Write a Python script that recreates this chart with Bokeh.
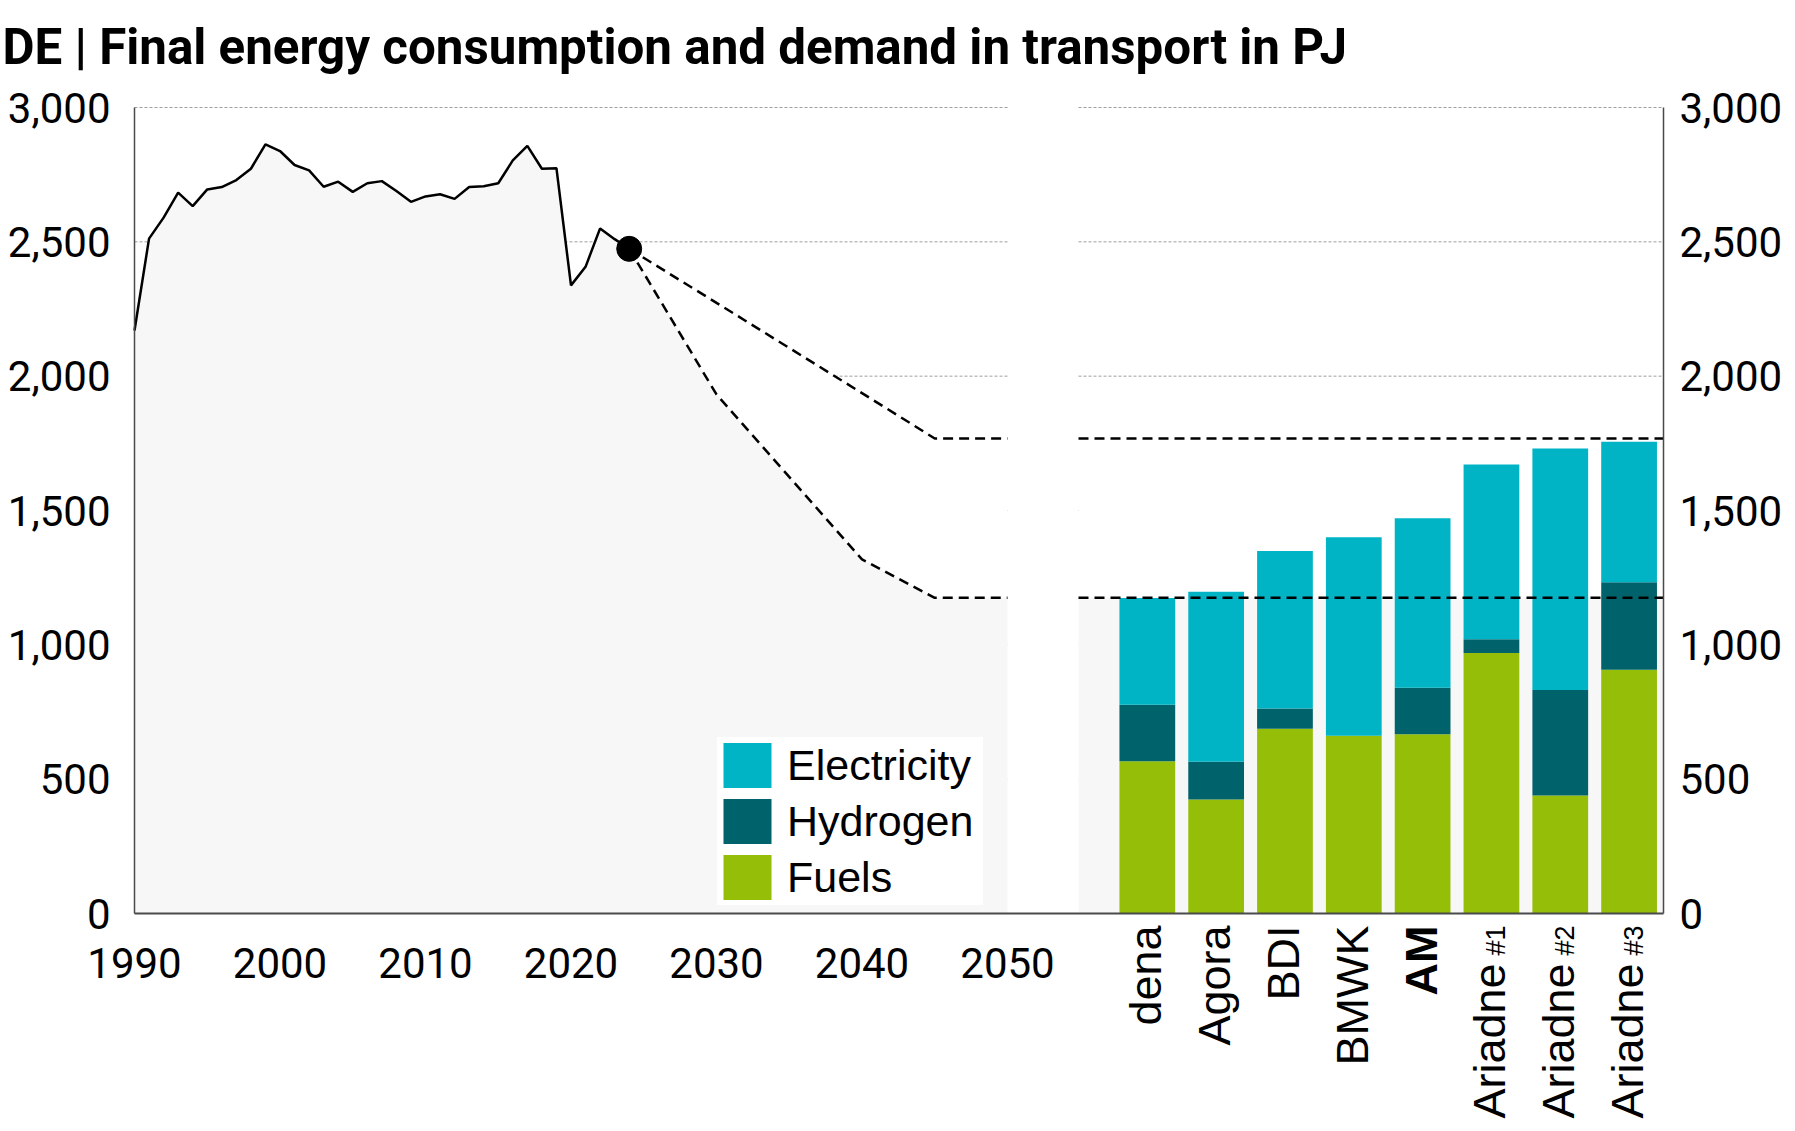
from math import pi
from bokeh.plotting import figure
from bokeh.models import (Range1d, LinearAxis, FixedTicker, NumeralTickFormatter,
                          Label, Legend, LegendItem, ColumnDataSource)
from bokeh.embed import file_html
from bokeh.resources import INLINE

# ---------------- data ----------------
title_text = "DE | Final energy consumption and demand in transport in PJ"

hist_years = list(range(1990, 2025))
hist_values = [2170, 2512, 2590, 2683, 2633, 2695, 2704, 2730, 2772, 2863,
               2838, 2786, 2766, 2705, 2724, 2686, 2718, 2726, 2689, 2649,
               2669, 2677, 2660, 2704, 2707, 2718, 2803, 2857, 2772, 2774,
               2338, 2407, 2550, 2510, 2474]

upper_years = [2024, 2030, 2040, 2045, 2050]
upper_values = [2474, 2273, 1937, 1768, 1768]
lower_years = [2024, 2030, 2040, 2045, 2050]
lower_values = [2474, 1932, 1318, 1175, 1175]

categories = ["dena", "Agora", "BDI", "BMWK", "AM",
              "Ariadne #1", "Ariadne #2", "Ariadne #3"]
bold_categories = ["AM"]
fuels = [567, 424, 688, 662, 667, 970, 439, 907]
hydrogen = [210, 141, 75, 0, 173, 51, 393, 326]
electricity = [397, 633, 586, 738, 631, 650, 899, 523]
series_names = ["Fuels", "Hydrogen", "Electricity"]

y_ticks = [0, 500, 1000, 1500, 2000, 2500, 3000]
x_ticks = [1990, 2000, 2010, 2020, 2030, 2040, 2050]

# ---------------- layout (pixels) ----------------
W, H = 1795, 1131
PX_LEFT, PX_GAP_L, PX_GAP_R, PX_RIGHT = 134, 1007, 1078, 1663
PX_TOP, PX_BOTTOM = 107, 913
SC0, SC1 = -1, 7.5

px_per_year = (PX_GAP_L - PX_LEFT) / (x_ticks[-1] - x_ticks[0])
x_start = x_ticks[0] - PX_LEFT / px_per_year
x_end = x_ticks[0] + (W - PX_LEFT) / px_per_year
x_axis_end = x_ticks[0] + (PX_RIGHT - PX_LEFT) / px_per_year

px_per_sc = (PX_RIGHT - PX_GAP_R) / (SC1 - SC0)
sc_start = SC0 - PX_GAP_R / px_per_sc
sc_end = SC1 + (W - PX_RIGHT) / px_per_sc

px_per_val = (PX_BOTTOM - PX_TOP) / (y_ticks[-1] - y_ticks[0])
y_start = -(H - PX_BOTTOM) / px_per_val
y_end = y_ticks[-1] + PX_TOP / px_per_val

# ---------------- style ----------------
C_ELEC = "#00B4C5"
C_H2 = "#00636B"
C_FUEL = "#95BE08"
C_AREA = "#F7F7F7"
GRID = "#9E9E9E"
AXIS = "#4A4A4A"

p = figure(width=W, height=H, output_backend="svg", toolbar_location=None,
           x_range=Range1d(x_start, x_end), y_range=Range1d(y_start, y_end),
           x_axis_location=None, y_axis_location=None,
           min_border=0, outline_line_color=None,
           background_fill_color="white", border_fill_color="white")
p.extra_x_ranges = {"sc": Range1d(sc_start, sc_end)}
p.xgrid.visible = False
p.ygrid.visible = False

xaxis = LinearAxis(ticker=FixedTicker(ticks=x_ticks), fixed_location=0,
                   bounds=(x_ticks[0], x_axis_end))
laxis = LinearAxis(ticker=FixedTicker(ticks=y_ticks), fixed_location=x_ticks[0],
                   bounds=(y_ticks[0], y_ticks[-1]),
                   formatter=NumeralTickFormatter(format="0,0"))
raxis = LinearAxis(ticker=FixedTicker(ticks=y_ticks), fixed_location=x_axis_end,
                   bounds=(y_ticks[0], y_ticks[-1]),
                   formatter=NumeralTickFormatter(format="0,0"))
p.add_layout(xaxis, "below")
p.add_layout(laxis, "left")
p.add_layout(raxis, "right")

for ax in [xaxis, laxis, raxis]:
    ax.major_tick_line_color = None
    ax.minor_tick_line_color = None
    ax.major_tick_out = 0
    ax.major_tick_in = 0
    ax.minor_tick_out = 0
    ax.minor_tick_in = 0
    ax.axis_line_color = AXIS
    ax.major_label_text_font = "Roboto"
    ax.major_label_text_font_size = "42px"
    ax.major_label_text_color = "black"
xaxis.axis_line_width = 2
laxis.axis_line_width = 1.5
raxis.axis_line_width = 1.5
xaxis.major_label_standoff = 34
laxis.major_label_standoff = 24
raxis.major_label_standoff = 16

# gridlines (broken in the gap)
levels = y_ticks[1:]
n = len(levels)
p.segment(x0=[x_ticks[0]] * n, x1=[x_ticks[-1]] * n, y0=levels, y1=levels,
          line_color=GRID, line_width=1, line_dash="3 2")
p.segment(x0=[SC0] * n, x1=[SC1] * n, y0=levels, y1=levels,
          line_color=GRID, line_width=1, line_dash="3 2", x_range_name="sc")

# fills
p.varea(x=upper_years, y1=0, y2=upper_values, fill_color="white")
p.varea(x=hist_years + lower_years[1:], y1=0, y2=hist_values + lower_values[1:],
        fill_color=C_AREA)
p.quad(left=SC0, right=SC1, bottom=0, top=upper_values[-1], fill_color="white",
       line_color=None, x_range_name="sc")
p.quad(left=SC0, right=SC1, bottom=0, top=lower_values[-1], fill_color=C_AREA,
       line_color=None, x_range_name="sc")

# lines
p.line(hist_years, hist_values, line_color="black", line_width=2.5)
p.line(upper_years, upper_values, line_color="black", line_width=2.5, line_dash="10 6")
p.line(lower_years, lower_values, line_color="black", line_width=2.5, line_dash="10 6")

# stacked bars
src = ColumnDataSource(dict(x=list(range(len(categories))), cat=categories,
                            Fuels=fuels, Hydrogen=hydrogen, Electricity=electricity))
rs = p.vbar_stack(series_names, x="x", width=0.81, source=src,
                  fill_color=[C_FUEL, C_H2, C_ELEC], line_color=None,
                  x_range_name="sc")

p.line(x=[SC0, SC1], y=[upper_values[-1]] * 2, line_color="black", line_width=2.5,
       line_dash="10 6", x_range_name="sc")
p.line(x=[SC0, SC1], y=[lower_values[-1]] * 2, line_color="black", line_width=2.5,
       line_dash="10 6", x_range_name="sc")

p.scatter([hist_years[-1]], [hist_values[-1]], size=25, color="black")

# legend (bokeh insets area swatches by 10%)
legend = Legend(items=[LegendItem(label=series_names[2], renderers=[rs[2]]),
                       LegendItem(label=series_names[1], renderers=[rs[1]]),
                       LegendItem(label=series_names[0], renderers=[rs[0]])],
                location=(717, 226), orientation="vertical",
                glyph_width=60, glyph_height=56, label_height=56, spacing=0,
                padding=1, margin=0, label_standoff=10, label_width=196,
                label_text_font="Liberation Sans", label_text_font_size="43px",
                label_text_color="black",
                background_fill_color="white", background_fill_alpha=1.0,
                border_line_color=None)
p.add_layout(legend)

# title
p.add_layout(Label(x=2, y=H - 46.5, x_units="screen", y_units="screen",
                   text=title_text, text_font="Roboto", text_font_style="bold",
                   text_font_size="49.3px", text_color="black",
                   text_baseline="middle", text_align="left"))

# category labels
label_top = H - PX_BOTTOM - 12
for i, cat in enumerate(categories):
    main, _, suffix = cat.partition(" #")
    style = "bold" if cat in bold_categories else "normal"
    common = dict(x=i, x_units="data", y_units="screen", x_range_name="sc",
                  angle=pi / 2, text_align="right", text_baseline="middle",
                  text_font="Liberation Sans", text_color="black",
                  text_font_style=style)
    if suffix:
        p.add_layout(Label(y=label_top, text="#" + suffix, text_font_size="27px",
                           x_offset=4.5, **common))
        p.add_layout(Label(y=label_top - 38, text=main, text_font_size="45px",
                           x_offset=-1.5, **common))
    else:
        p.add_layout(Label(y=label_top, text=main, text_font_size="45px",
                           x_offset=-1.5, **common))

open("out.html", "w").write(file_html(p, INLINE))
